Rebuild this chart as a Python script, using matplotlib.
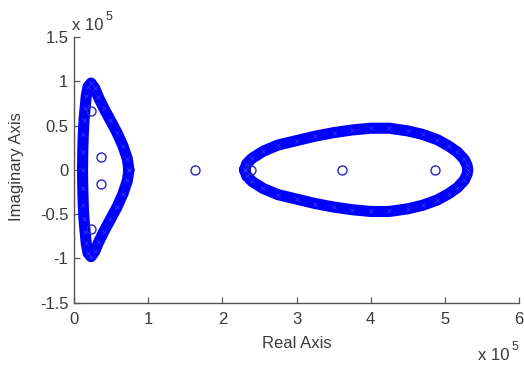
import numpy as np
import matplotlib
matplotlib.use("Agg")
import matplotlib.pyplot as plt

# Root-locus branches (upper half-plane, units of 1e5); lower half is the conjugate
left_branch_re = [0.74, 0.72, 0.66, 0.58, 0.49, 0.40, 0.33, 0.28, 0.23,
                  0.19, 0.165, 0.15, 0.135, 0.125, 0.118, 0.115]
left_branch_im = [0.00, 0.12, 0.27, 0.42, 0.56, 0.70, 0.82, 0.92, 0.98,
                  0.94, 0.83, 0.70, 0.56, 0.40, 0.20, 0.00]

right_branch_re = [2.30, 2.33, 2.40, 2.55, 2.75, 3.00, 3.25, 3.50, 3.75, 4.00, 4.25,
                   4.50, 4.70, 4.90, 5.05, 5.17, 5.26, 5.30, 5.31]
right_branch_im = [0.00, 0.07, 0.13, 0.21, 0.28, 0.33, 0.38, 0.42, 0.45, 0.47, 0.47,
                   0.44, 0.40, 0.34, 0.27, 0.20, 0.12, 0.05, 0.00]

# Zeros (open circles), units of 1e5
zero_re = [0.225, 0.36, 0.36, 0.225, 1.63, 2.38, 3.62, 4.87]
zero_im = [0.66, 0.15, -0.16, -0.67, 0.0, 0.0, 0.0, 0.0]

x_ticks = [0, 1, 2, 3, 4, 5, 6]
y_ticks = [-1.5, -1, -0.5, 0, 0.5, 1, 1.5]
y_tick_labels = ["-1.5", "-1", "-0.5", "0", "0.5", "1", "1.5"]

W, H = 524, 366
fig = plt.figure(figsize=(W / 100, H / 100), dpi=100)
ax = fig.add_axes([74 / W, 1 - 302.7 / H, 445 / W, 265.7 / H])

font = "Liberation Sans"
txt_color = "#3a3a3a"
blue = (0, 0, 1)


def closed(re, im):
    re = np.asarray(re, float)
    im = np.asarray(im, float)
    full_re = np.concatenate([re, re[::-1][1:]])
    full_im = np.concatenate([im, -im[::-1][1:]])
    return full_re, full_im


for re, im in [(left_branch_re, left_branch_im), (right_branch_re, right_branch_im)]:
    cr, ci = closed(re, im)
    ax.plot(cr, ci, color=blue, lw=8.0, solid_joinstyle="round",
            solid_capstyle="round", zorder=2)
    ax.plot(cr, ci, linestyle="none", marker="x", color=(0.4, 0.4, 1.0),
            ms=2.5, mew=0.5, alpha=0.6, zorder=3)

ax.plot(zero_re, zero_im, linestyle="none", marker="o", ms=6.5, mfc="none",
        mec=(0.15, 0.15, 0.75), mew=1.0, zorder=4)

ax.set_xlim(0, 6)
ax.set_ylim(-1.5, 1.5)
ax.set_xticks(x_ticks)
ax.set_xticklabels([str(t) for t in x_ticks])
ax.set_yticks(y_ticks)
ax.set_yticklabels(y_tick_labels)

for s in ["top", "right"]:
    ax.spines[s].set_visible(False)
for s in ["left", "bottom"]:
    ax.spines[s].set_color("#555555")
    ax.spines[s].set_linewidth(1.0)

ax.tick_params(direction="in", length=4, width=0.9, color="#555555",
               labelcolor=txt_color, labelsize=12)
ax.tick_params(axis="x", pad=7)
ax.tick_params(axis="y", pad=4)
for lab in ax.get_xticklabels() + ax.get_yticklabels():
    lab.set_fontfamily(font)


def px(x, y):
    return x / W, 1 - y / H


fig.text(*px(297, 348), "Real Axis", ha="center", va="baseline",
         fontsize=12, family=font, color=txt_color)
fig.text(*px(17, 167), "Imaginary Axis", ha="center", va="center",
         rotation=90, fontsize=12, family=font, color=txt_color)

# Exponent multipliers
fig.text(*px(72, 30), "x 10", ha="left", va="baseline", fontsize=12,
         family=font, color=txt_color)
fig.text(*px(106, 20), "5", ha="left", va="baseline", fontsize=9,
         family=font, color=txt_color)
fig.text(*px(478, 360), "x 10", ha="left", va="baseline", fontsize=12,
         family=font, color=txt_color)
fig.text(*px(512, 350), "5", ha="left", va="baseline", fontsize=9,
         family=font, color=txt_color)

fig.savefig("out.png", dpi=100, facecolor="white")
